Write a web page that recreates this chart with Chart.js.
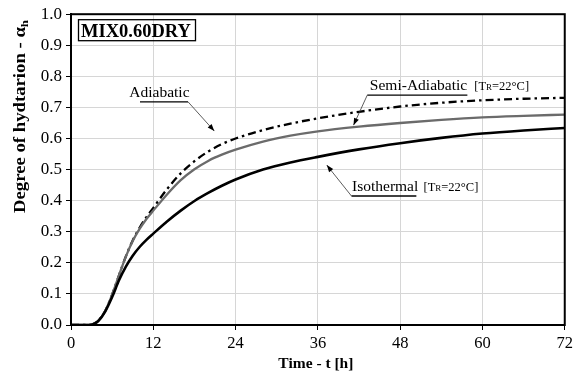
<!DOCTYPE html>
<html>
<head>
<meta charset="utf-8">
<script src="https://cdn.jsdelivr.net/npm/chart.js@4/dist/chart.umd.min.js"></script>
<style>
html,body{margin:0;padding:0;background:#fff;}
#wrap{width:577px;height:381px;}
</style>
</head>
<body>
<div id="wrap"><canvas id="c" width="577" height="381"></canvas></div>
<script>
// ---- data ----
const timeHours     = [0, 1, 2, 3, 3.5, 4, 5, 6, 7, 8, 9, 10, 11, 12, 14, 16, 18, 20, 22, 24, 28, 32, 36, 42, 48, 54, 60, 66, 72];
const isothermal    = [0, 0, 0, 0.001, 0.005, 0.013, 0.044, 0.090, 0.144, 0.188, 0.223, 0.251, 0.274, 0.294, 0.333, 0.368, 0.399, 0.425, 0.448, 0.468, 0.500, 0.523, 0.541, 0.565, 0.585, 0.602, 0.616, 0.626, 0.634];
const semiAdiabatic = [0, 0, 0, 0.001, 0.006, 0.014, 0.046, 0.098, 0.160, 0.220, 0.270, 0.309, 0.341, 0.368, 0.420, 0.466, 0.501, 0.528, 0.548, 0.564, 0.590, 0.609, 0.623, 0.638, 0.650, 0.660, 0.668, 0.673, 0.677];
const adiabatic     = [0, 0, 0, 0.001, 0.006, 0.014, 0.046, 0.098, 0.160, 0.221, 0.272, 0.313, 0.347, 0.377, 0.437, 0.488, 0.527, 0.558, 0.582, 0.600, 0.627, 0.648, 0.665, 0.686, 0.703, 0.715, 0.723, 0.728, 0.731];
const xTickValues = [0, 12, 24, 36, 48, 60, 72];
const yTickValues = [0, 0.1, 0.2, 0.3, 0.4, 0.5, 0.6, 0.7, 0.8, 0.9, 1.0];
const xTitle = 'Time - t [h]';
const yTitle = 'Degree of hydtarion - \u03B1';
const yTitleSub = 'h';
const boxLabel = 'MIX0.60DRY';
const seriesNames = ['Isothermal', 'Semi-Adiabatic', 'Adiabatic'];
const refTemp = '=22\u00B0C]';

const toPts = arr => arr.map((v, i) => ({x: timeHours[i], y: v}));

const SERIF = '"Liberation Serif", "Times New Roman", serif';

function arrow(ctx, x1, y1, x2, y2) {
  ctx.beginPath(); ctx.moveTo(x1, y1); ctx.lineTo(x2, y2); ctx.stroke();
  const ang = Math.atan2(y2 - y1, x2 - x1), L = 7, W = 2.6;
  ctx.beginPath();
  ctx.moveTo(x2, y2);
  ctx.lineTo(x2 - L * Math.cos(ang) + W * Math.sin(ang), y2 - L * Math.sin(ang) - W * Math.cos(ang));
  ctx.lineTo(x2 - L * Math.cos(ang) - W * Math.sin(ang), y2 - L * Math.sin(ang) + W * Math.cos(ang));
  ctx.closePath(); ctx.fill();
}

function tempTag(ctx, x, y) {
  ctx.font = '12.5px ' + SERIF;
  ctx.fillText('[T', x, y);
  let w = ctx.measureText('[T').width;
  ctx.font = '9px ' + SERIF;
  ctx.fillText('R', x + w, y);
  w += ctx.measureText('R').width;
  ctx.font = '12.5px ' + SERIF;
  ctx.fillText(refTemp, x + w, y);
}

const decor = {
  id: 'decor',
  afterDraw(chart) {
    const {ctx, chartArea: a, scales: {x, y}} = chart;
    const px = v => x.getPixelForValue(v), py = v => y.getPixelForValue(v);
    ctx.save();
    // frame
    ctx.strokeStyle = '#000'; ctx.lineWidth = 2;
    ctx.strokeRect(a.left, a.top, a.right - a.left, a.bottom - a.top);

    // box label
    ctx.lineWidth = 1.3;
    ctx.strokeRect(a.left + 7.5, a.top + 5.5, 117, 21);
    ctx.fillStyle = '#000';
    ctx.font = 'bold 18.5px ' + SERIF;
    ctx.textBaseline = 'alphabetic'; ctx.textAlign = 'left';
    ctx.fillText(boxLabel, a.left + 10, a.top + 23);

    // annotations
    ctx.lineWidth = 1; ctx.strokeStyle = '#000';
    ctx.font = '15.5px ' + SERIF;
    // Adiabatic
    ctx.fillText(seriesNames[2], px(8.5), py(0.733));
    ctx.lineWidth = 1.3;
    ctx.beginPath(); ctx.moveTo(px(10.06), py(0.718)); ctx.lineTo(px(17.07), py(0.718)); ctx.stroke();
    ctx.lineWidth = 0.8; ctx.strokeStyle = '#333';
    arrow(ctx, px(17.07), py(0.718), px(20.9), py(0.624));
    // Semi-Adiabatic
    ctx.strokeStyle = '#000';
    ctx.font = '15.5px ' + SERIF;
    ctx.fillText(seriesNames[1], px(43.58), py(0.756));
    tempTag(ctx, px(58.8), py(0.756));
    ctx.lineWidth = 1.3;
    ctx.beginPath(); ctx.moveTo(px(43.2), py(0.7395)); ctx.lineTo(px(57.8), py(0.7395)); ctx.stroke();
    ctx.lineWidth = 0.8; ctx.strokeStyle = '#333';
    arrow(ctx, px(43.2), py(0.7395), px(41.2), py(0.643));
    // Isothermal
    ctx.strokeStyle = '#000';
    ctx.font = '15.5px ' + SERIF;
    ctx.fillText(seriesNames[0], px(40.98), py(0.431));
    tempTag(ctx, px(51.4), py(0.431));
    ctx.lineWidth = 1.3;
    ctx.beginPath(); ctx.moveTo(px(40.9), py(0.415)); ctx.lineTo(px(50.36), py(0.415)); ctx.stroke();
    ctx.lineWidth = 0.8; ctx.strokeStyle = '#333';
    arrow(ctx, px(40.9), py(0.415), px(37.3), py(0.5145));

    // x title
    ctx.fillStyle = '#000';
    ctx.font = 'bold 15.5px ' + SERIF;
    ctx.textAlign = 'center';
    ctx.fillText(xTitle, (a.left + a.right) / 2 - 2, 368);

    // y title (rotated, with subscript)
    ctx.translate(25, 213);
    ctx.rotate(-Math.PI / 2);
    ctx.textAlign = 'left';
    ctx.font = 'bold 16px ' + SERIF;
    const w1 = ctx.measureText(yTitle).width;
    ctx.font = 'bold 11px ' + SERIF;
    const w2 = ctx.measureText(yTitleSub).width;
    const s = 193 / (w1 + w2);
    ctx.scale(s, 1);
    ctx.font = 'bold 16px ' + SERIF;
    ctx.fillText(yTitle, 0, 0);
    ctx.font = 'bold 11px ' + SERIF;
    ctx.fillText(yTitleSub, w1, 3);
    ctx.restore();
  }
};

new Chart(document.getElementById('c'), {
  type: 'line',
  data: {
    datasets: [
      {label: seriesNames[0], data: toPts(isothermal), borderColor: '#000', borderWidth: 2.6,
       pointRadius: 0, cubicInterpolationMode: 'monotone', fill: false},
      {label: seriesNames[1], data: toPts(semiAdiabatic), borderColor: '#6b6b6b', borderWidth: 2.3,
       pointRadius: 0, cubicInterpolationMode: 'monotone', fill: false},
      {label: seriesNames[2], data: toPts(adiabatic), borderColor: '#000', borderWidth: 2.3,
       borderDash: [8, 4, 2.5, 4], pointRadius: 0, cubicInterpolationMode: 'monotone', fill: false}
    ]
  },
  options: {
    responsive: false, animation: false, devicePixelRatio: 1,
    layout: {padding: {top: 14, right: 7, left: 0, bottom: 0}},
    plugins: {legend: {display: false}, tooltip: {enabled: false}},
    scales: {
      x: {
        type: 'linear', min: 0, max: 72,
        afterBuildTicks: sc => { sc.ticks = xTickValues.map(v => ({value: v})); },
        afterFit: sc => { sc.height = 56; },
        grid: {color: '#d6d6d6', lineWidth: 1, tickColor: '#000', tickLength: 5, drawOnChartArea: true},
        border: {display: true, color: '#000', width: 2},
        ticks: {color: '#000', font: {family: SERIF, size: 16.5}, padding: 4, maxRotation: 0,
                callback: v => String(v)}
      },
      y: {
        type: 'linear', min: 0, max: 1,
        afterBuildTicks: sc => { sc.ticks = yTickValues.map(v => ({value: v})); },
        afterFit: sc => { sc.width = 71; },
        grid: {color: '#d6d6d6', lineWidth: 1, tickColor: '#000', tickLength: 5, drawOnChartArea: true},
        border: {display: true, color: '#000', width: 2},
        ticks: {color: '#000', font: {family: SERIF, size: 17}, padding: 4,
                callback: v => Number(v).toFixed(1)}
      }
    }
  },
  plugins: [decor]
});
</script>
</body>
</html>
